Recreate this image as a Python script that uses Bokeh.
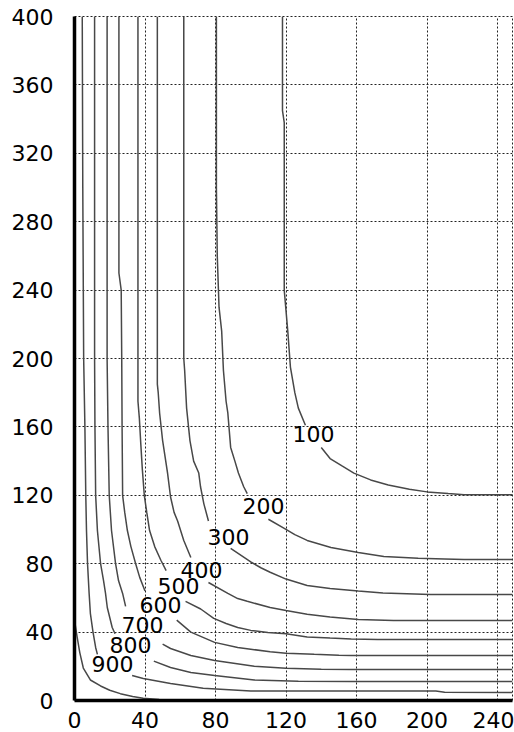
from bokeh.plotting import figure
from bokeh.embed import file_html
from bokeh.resources import INLINE
from bokeh.core.properties import value
from bokeh.models import FixedTicker

NaN = float("nan")

# ---- data (NaN = gap where the level label sits) ----
c100_x = [118, 118, 119, 119, 121, 122.5, 125, 127, 131, NaN, 140, 145, 152, 158.5, 168, 178, 190, 200, 212, 221, 235, 248.5]
c100_y = [400, 345, 338, 240, 216, 195, 180, 171, 161, NaN, 148, 141.5, 137, 133, 129, 126, 123.5, 122, 121, 120.3, 120.3, 120.3]

c200_x = [80.5, 80.5, 81, 82, 83.5, 84.5, 86, 87, 88.6, 91, 93, 96, 98, NaN, 110, 119, 125, 132, 145.5, 161, 175.5, 195, 210, 221, 248.5]
c200_y = [400, 300, 260, 230, 216, 193, 175, 168, 148, 140, 133, 125, 121, NaN, 106, 100.6, 97, 93.6, 89.5, 86.5, 84.2, 83.2, 82.8, 82.5, 82.5]

c300_x = [62, 62, 62.5, 63.6, 65.5, 67.6, 70.5, 71.5, 73.4, 76, NaN, 88.6, 100, 106, 111, 120, 132, 145, 161, 175, 202, 248.5]
c300_y = [400, 200, 193, 171, 152, 140, 133, 125, 115, 105, NaN, 89, 81, 77.5, 75, 71, 67.3, 65.5, 64, 62.8, 62, 62]

c400_x = [47, 47, 47.5, 48.3, 50, 52.8, 54.5, 56.5, 58.5, 62, 66, NaN, 76, 87, 92.6, 98, 111, 120, 132, 145, 161, 181, 248.5]
c400_y = [400, 185, 180, 168, 152, 133, 119, 110, 105, 93.6, 83.6, NaN, 69, 62.6, 59.6, 58, 54.4, 52.6, 50.5, 48.8, 47.4, 46.8, 46.8]

c500_x = [36, 36, 36.8, 37.5, 38.5, 39.6, 41, 42.6, 45.5, 49, 52, NaN, 63, 71.6, 79, 86, 92.6, 100, 109.7, 120, 132, 145, 157, 172, 248.5]
c500_y = [400, 175, 165, 152, 135, 120, 110, 99.4, 90, 82, 76, NaN, 58, 53.5, 48, 45, 42.7, 41, 39.8, 39, 37.2, 36.5, 36, 35.7, 35.7]

c600_x = [25.2, 25.2, 26.5, 26.8, 27, 27.3, 28.5, 30, 32, 34.7, 37, 40, NaN, 58, 66, 79.5, 92.6, 100, 111, 120, 136, 150, 157, 248.5]
c600_y = [400, 250, 240, 200, 160, 120, 110, 99.4, 90, 80, 72, 64, NaN, 47, 40, 34, 31, 30, 28.5, 27.7, 27, 26.5, 26.3, 26.3]

c700_x = [18.5, 18.5, 19, 19.7, 21, 23.3, 25, 27.3, 29, NaN, 50, 54.5, 66, 79.5, 102, 120, 140, 157, 248.5]
c700_y = [400, 200, 160, 120, 99.4, 80, 70, 62.6, 55, NaN, 33, 30.4, 26.3, 23.4, 20, 18.9, 18.3, 18.1, 18.1]

c800_x = [11.4, 11.4, 11.6, 12, 13, 14.8, 16.5, 17.6, 18.6, 21.4, 23, NaN, 45, 54.5, 66, 79.5, 102, 127, 157, 248.5]
c800_y = [400, 200, 160, 120, 99.4, 80, 70, 62.6, 54.4, 42.7, 39, NaN, 23, 19.3, 16.4, 14.6, 12, 11.3, 11.1, 11.1]

c900_x = [4.4, 4.7, 5.2, 5.9, 6.4, 6.8, 7.4, 8.3, 9, 10.5, 12, 13, NaN, 32.7, 39, 54.5, 73, 100, 150, 205, 210, 248.5]
c900_y = [400, 300, 200, 160, 120, 99.4, 80, 62.6, 51, 40, 31, 27, NaN, 14.6, 12.9, 10, 7.2, 5.5, 5.5, 5.5, 4.8, 4.7]

c1000_x = [0.3, 1.5, 3, 5, 9, 14.8, 20, 26, 33, 39, 48]
c1000_y = [45, 37, 28, 19, 12, 8.5, 6, 4, 2.4, 1.3, 0.6]

level_text = ["100", "200", "300", "400", "500", "600", "700", "800", "900"]
level_x = [135.6, 107.2, 87.4, 72.1, 59.0, 48.8, 38.6, 31.8, 21.6]
level_y = [155.6, 113.5, 95.9, 76.6, 66.7, 56.1, 44.4, 32.7, 21.1]

x_ticks = [0, 40, 80, 120, 160, 200, 240]
y_ticks = [0, 40, 80, 120, 160, 200, 240, 280, 320, 360, 400]

# ---- figure ----
p = figure(frame_width=438, frame_height=684,
           min_border_left=74, min_border_right=2, min_border_top=16, min_border_bottom=32,
           x_range=(0, 248.5), y_range=(0, 400),
           output_backend="svg", toolbar_location=None)
p.background_fill_color = "white"
p.border_fill_color = "white"
p.outline_line_color = "#222222"
p.outline_line_dash = "2 2"
p.outline_line_width = 1

p.xaxis.ticker = FixedTicker(ticks=x_ticks)
p.yaxis.ticker = FixedTicker(ticks=y_ticks)
for ax in (p.xaxis, p.yaxis):
    ax.axis_line_width = 3.5
    ax.axis_line_color = "black"
    ax.major_tick_line_color = None
    ax.minor_tick_line_color = None
    ax.major_label_text_font = "DejaVu Sans"
    ax.major_label_text_font_size = "22px"
    ax.major_label_text_color = "black"
p.yaxis.major_label_standoff = 15
p.xaxis.major_label_standoff = 5

for g in (p.xgrid, p.ygrid):
    g.grid_line_color = "#222222"
    g.grid_line_dash = "2 2"
    g.grid_line_width = 1

curves = [(c100_x, c100_y), (c200_x, c200_y), (c300_x, c300_y), (c400_x, c400_y),
          (c500_x, c500_y), (c600_x, c600_y), (c700_x, c700_y), (c800_x, c800_y),
          (c900_x, c900_y), (c1000_x, c1000_y)]
for cx, cy in curves:
    p.line(cx, cy, line_color="#484848", line_width=1.5)

p.text(x=level_x, y=level_y, text=level_text,
       text_font=value("DejaVu Sans"), text_font_size="22px",
       text_align="center", text_baseline="middle", text_color="black")

open("out.html", "w").write(file_html(p, INLINE))
